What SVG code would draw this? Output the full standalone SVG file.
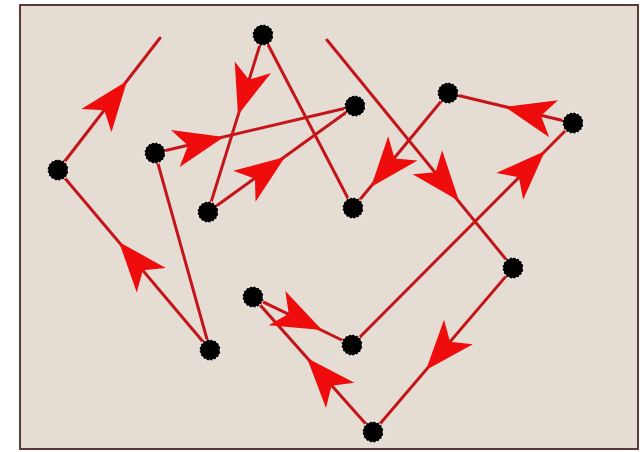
<svg xmlns="http://www.w3.org/2000/svg" xmlns:xlink="http://www.w3.org/1999/xlink" width="640" height="452" viewBox="0 0 640 452">
<style>
.edge{stroke:#c4161a;stroke-width:3;fill:none;stroke-linecap:round}
.ah{fill:#ee0c0c}
.dot{fill:#000}
.rim{fill:none;stroke:#f2eeee;stroke-width:1.6;stroke-dasharray:1.6 2.4}
</style>
<defs>
<path id="ah" class="ah" d="M0,0 L-50,-19 L-37,0 L-50,19 Z"/>
<g id="node"><circle class="dot" r="10.5"/><circle class="rim" r="10.5"/></g>
</defs>
<rect width="640" height="452" fill="#ffffff"/>
<rect x="20" y="5" width="618" height="444" fill="#e5ddd4" stroke="#5c3838" stroke-width="2"/>
<g id="connectors">
<line class="edge" x1="58" y1="170" x2="160" y2="38"/>
<line class="edge" x1="210" y1="350" x2="58" y2="170"/>
<line class="edge" x1="155" y1="153" x2="210" y2="350"/>
<line class="edge" x1="155" y1="153" x2="355" y2="106"/>
<line class="edge" x1="208" y1="212" x2="355" y2="106"/>
<line class="edge" x1="263" y1="35" x2="208" y2="212"/>
<line class="edge" x1="263" y1="35" x2="353" y2="208"/>
<line class="edge" x1="448" y1="93" x2="353" y2="208"/>
<line class="edge" x1="573" y1="123" x2="448" y2="93"/>
<line class="edge" x1="352" y1="345" x2="573" y2="123"/>
<line class="edge" x1="327" y1="40" x2="513" y2="268"/>
<line class="edge" x1="513" y1="268" x2="373" y2="432"/>
<line class="edge" x1="373" y1="432" x2="253" y2="297"/>
<line class="edge" x1="253" y1="297" x2="352" y2="345"/>
<use xlink:href="#ah" href="#ah" transform="translate(127,81) rotate(-52.3)"/>
<use xlink:href="#ah" href="#ah" transform="translate(119,242) rotate(-130.2)"/>
<use xlink:href="#ah" href="#ah" transform="translate(224,137) rotate(-13.2)"/>
<use xlink:href="#ah" href="#ah" transform="translate(238,115) rotate(107.3)"/>
<use xlink:href="#ah" href="#ah" transform="translate(285,157) rotate(-35.8)"/>
<use xlink:href="#ah" href="#ah" transform="translate(371,187) rotate(129.6)"/>
<use xlink:href="#ah" href="#ah" transform="translate(505,107) rotate(-166.5)"/>
<use xlink:href="#ah" href="#ah" transform="translate(459,201) rotate(50.8)"/>
<use xlink:href="#ah" href="#ah" transform="translate(426,370) rotate(130.5)"/>
<use xlink:href="#ah" href="#ah" transform="translate(307,358) rotate(-131.6)"/>
<use xlink:href="#ah" href="#ah" transform="translate(322,330) rotate(25.9)"/>
<use xlink:href="#ah" href="#ah" transform="translate(545,151) rotate(-45.1)"/>
</g>
<g id="nA"><use xlink:href="#node" href="#node" x="58" y="170"/></g>
<g id="nB"><use xlink:href="#node" href="#node" x="263" y="35"/></g>
<g id="nC"><use xlink:href="#node" href="#node" x="155" y="153"/></g>
<g id="nD"><use xlink:href="#node" href="#node" x="355" y="106"/></g>
<g id="nE"><use xlink:href="#node" href="#node" x="208" y="212"/></g>
<g id="nF"><use xlink:href="#node" href="#node" x="353" y="208"/></g>
<g id="nG"><use xlink:href="#node" href="#node" x="448" y="93"/></g>
<g id="nH"><use xlink:href="#node" href="#node" x="573" y="123"/></g>
<g id="nI"><use xlink:href="#node" href="#node" x="513" y="268"/></g>
<g id="nJ"><use xlink:href="#node" href="#node" x="253" y="297"/></g>
<g id="nK"><use xlink:href="#node" href="#node" x="352" y="345"/></g>
<g id="nL"><use xlink:href="#node" href="#node" x="210" y="350"/></g>
<g id="nM"><use xlink:href="#node" href="#node" x="373" y="432"/></g>
</svg>
